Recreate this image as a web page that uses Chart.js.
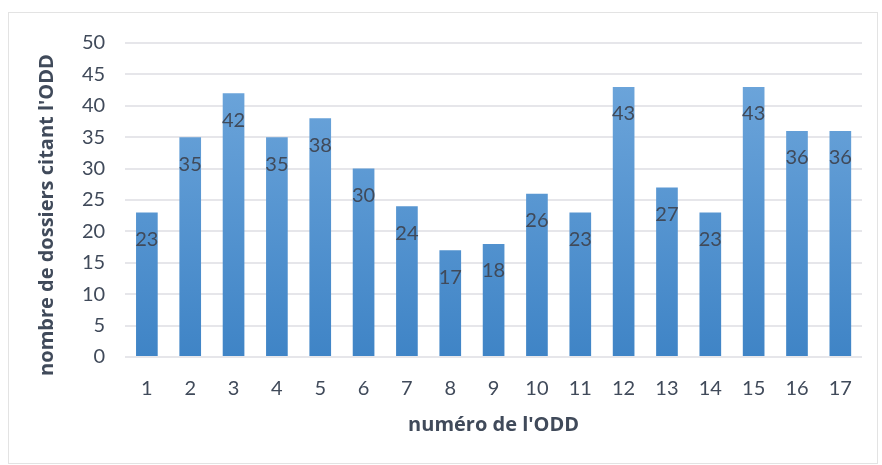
<!DOCTYPE html>
<html>
<head>
<meta charset="utf-8">
<script src="https://cdn.jsdelivr.net/npm/chart.js@4/dist/chart.umd.min.js"></script>
<style>
  html, body { margin: 0; padding: 0; background: #fff; }
  #wrap { position: relative; width: 882px; height: 465px; }
  #frame { position: absolute; left: 8px; top: 12px; width: 870px; height: 452px; border: 1px solid #e3e3e3; box-sizing: border-box; }
  canvas { position: absolute; left: 0; top: 0; }
</style>
</head>
<body>
<div id="wrap">
  <div id="frame"></div>
  <canvas id="chart" width="882" height="465"></canvas>
</div>
<script>
const odd = ["1", "2", "3", "4", "5", "6", "7", "8", "9", "10", "11", "12", "13", "14", "15", "16", "17"];
const dossiers = [23, 35, 42, 35, 38, 30, 24, 17, 18, 26, 23, 43, 27, 23, 43, 36, 36];
const yTitle = "nombre de dossiers citant l'ODD";
const xTitle = "numéro de l'ODD";

const textColor = "#404a5a";
const font = "Lato, 'Open Sans', sans-serif";
const boldFont = "'Open Sans', Lato, sans-serif";

// value labels inside the bars + the y title, which sits a bit lower than centred
const extras = {
  id: "extras",
  afterDatasetsDraw(chart) {
    const ctx = chart.ctx;
    const meta = chart.getDatasetMeta(0);
    ctx.save();
    ctx.font = "20px " + font;
    ctx.fillStyle = textColor;
    ctx.textAlign = "center";
    ctx.textBaseline = "middle";
    meta.data.forEach((bar, i) => {
      ctx.fillText(dossiers[i], bar.x, bar.y + 27);
    });
    ctx.translate(47, 215);
    ctx.rotate(-Math.PI / 2);
    ctx.font = "bold 20px " + boldFont;
    ctx.fillText(yTitle, 0, 0);
    ctx.restore();
  }
};

function barGradient(context) {
  const area = context.chart.chartArea;
  if (!area) return "#5b9bd5";
  const g = context.chart.ctx.createLinearGradient(0, area.top, 0, area.bottom);
  g.addColorStop(0, "#72a9dd");
  g.addColorStop(1, "#3f84c6");
  return g;
}

new Chart(document.getElementById("chart"), {
  type: "bar",
  data: {
    labels: odd,
    datasets: [{
      data: dossiers,
      backgroundColor: barGradient,
      barPercentage: 0.5,
      categoryPercentage: 1
    }]
  },
  plugins: [extras],
  options: {
    responsive: false,
    animation: false,
    layout: { padding: { left: 62, right: 20, top: 43, bottom: 24 } },
    plugins: {
      legend: { display: false },
      tooltip: { enabled: false }
    },
    scales: {
      x: {
        grid: { display: false },
        border: { display: false },
        ticks: { color: textColor, font: { family: font, size: 20 }, padding: 12 },
        title: {
          display: true,
          text: xTitle,
          color: textColor,
          font: { family: boldFont, size: 20, weight: "bold" },
          padding: { top: 0 }
        }
      },
      y: {
        min: 0,
        max: 50,
        ticks: { stepSize: 5, color: textColor, font: { family: font, size: 20 }, padding: 20 },
        grid: { color: "#e6e6ea", lineWidth: 2, drawTicks: false },
        border: { display: false }
      }
    }
  }
});
</script>
</body>
</html>
